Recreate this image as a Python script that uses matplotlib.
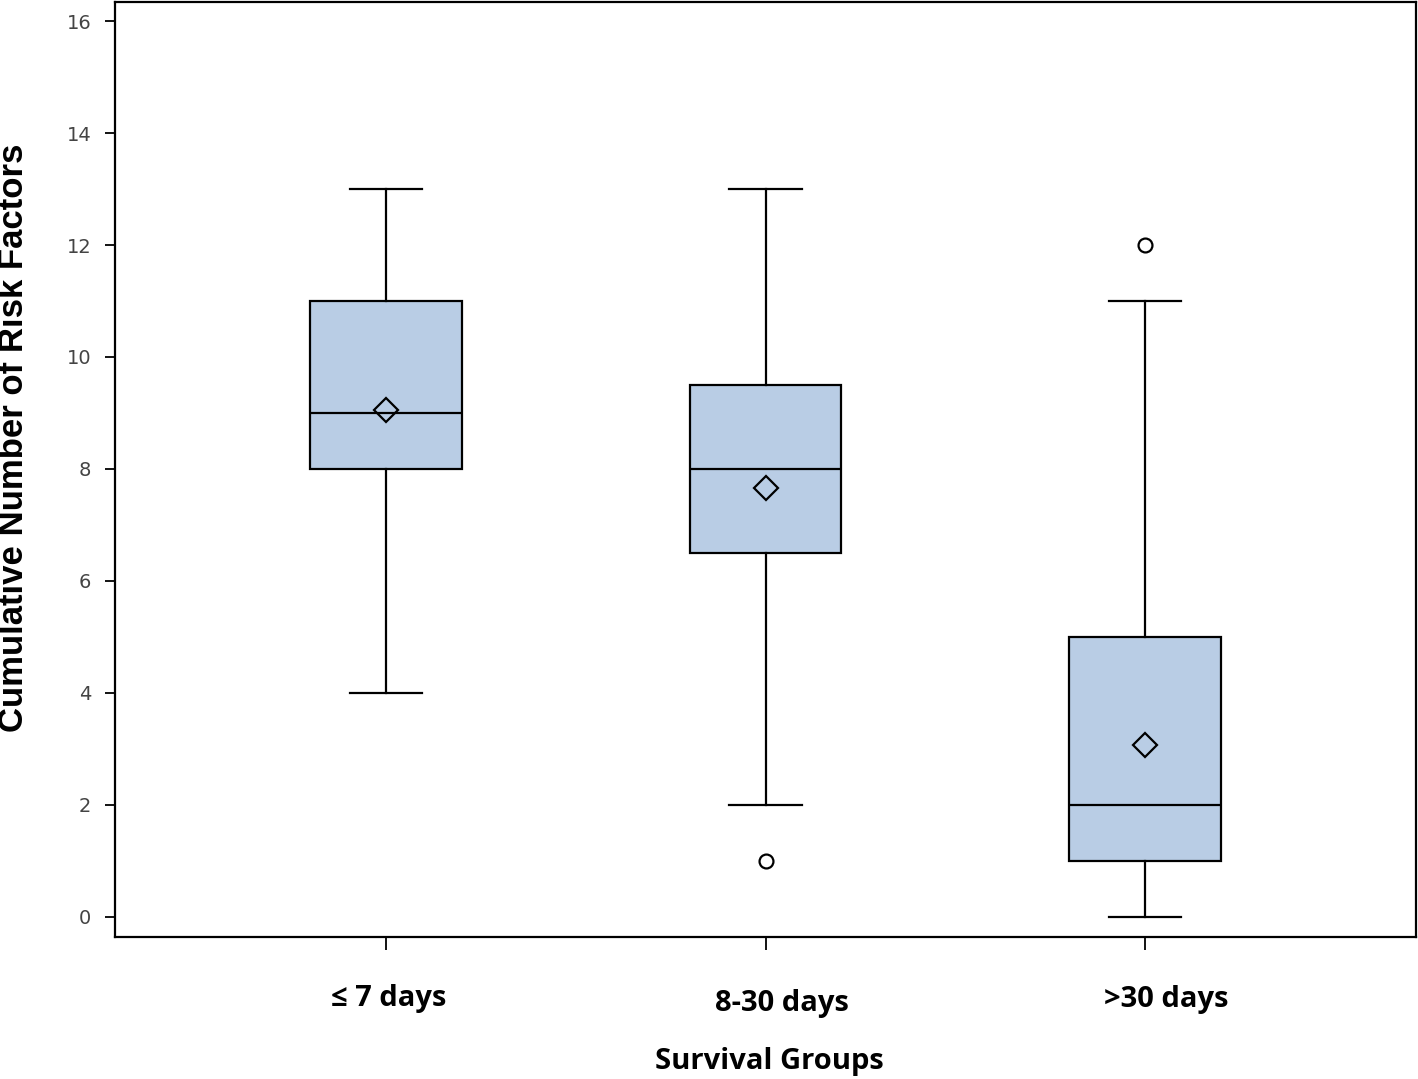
import matplotlib
matplotlib.use('Agg')
import matplotlib.pyplot as plt
import matplotlib.transforms as mtransforms

# survival groups and box statistics
groups = ['\u2264 7 days', '8-30 days', '>30 days']
whisker_low = [4, 2, 0]
q1 = [8, 6.5, 1]
medians = [9, 8, 2]
q3 = [11, 9.5, 5]
whisker_high = [13, 13, 11]
means = [9.05, 7.66, 3.07]
outliers = [[], [1], [12]]

yticks = [0, 2, 4, 6, 8, 10, 12, 14, 16]

stats = []
for i, name in enumerate(groups):
    stats.append({
        'label': name,
        'whislo': whisker_low[i],
        'q1': q1[i],
        'med': medians[i],
        'q3': q3[i],
        'whishi': whisker_high[i],
        'mean': means[i],
        'fliers': outliers[i],
    })

fig = plt.figure(figsize=(14.18, 10.79), dpi=100)
ax = fig.add_axes([0.0811, 0.1316, 0.9175, 0.8665])

positions = [1, 2, 3]
ax.bxp(stats, positions=positions, widths=0.4, capwidths=0.19,
       showmeans=True, patch_artist=True,
       boxprops=dict(facecolor='#b9cde5', edgecolor='black', linewidth=1.6),
       medianprops=dict(color='black', linewidth=1.6),
       whiskerprops=dict(color='black', linewidth=1.6),
       capprops=dict(color='black', linewidth=1.6),
       meanprops=dict(marker='D', markerfacecolor='none', markeredgecolor='black',
                      markeredgewidth=1.6, markersize=12),
       flierprops=dict(marker='o', markerfacecolor='none', markeredgecolor='black',
                       markeredgewidth=1.6, markersize=10))

ax.set_xlim(0.286, 3.714)
ax.set_ylim(-0.36, 16.34)
ax.set_yticks(yticks)
ax.set_yticklabels([str(t) for t in yticks], fontsize=14, color='#444444')
ax.tick_params(axis='y', length=7, width=1.3, pad=10)
ax.tick_params(axis='x', length=9, width=1.3, pad=25)
ax.set_xticks(positions)
ax.set_xticklabels(groups, fontsize=21, fontweight='bold', family='Open Sans')

# small horizontal / vertical shifts of the group labels as in the original
shifts = [(3, 0), (16, -5), (21, -1)]
for lbl, (dx, dy) in zip(ax.get_xticklabels(), shifts):
    offset = mtransforms.ScaledTranslation(dx / 100, dy / 100, fig.dpi_scale_trans)
    lbl.set_transform(lbl.get_transform() + offset)

for spine in ax.spines.values():
    spine.set_linewidth(1.6)

ax.set_ylabel('Cumulative Number of Risk Factors', fontsize=25, fontweight='bold',
              family='Liberation Sans')
ax.yaxis.set_label_coords(-0.065, 0.534)
ax.set_xlabel('Survival Groups', fontsize=21, fontweight='bold', family='Open Sans')
ax.xaxis.set_label_coords(0.503, -0.118)

fig.savefig('out.png', dpi=100)
